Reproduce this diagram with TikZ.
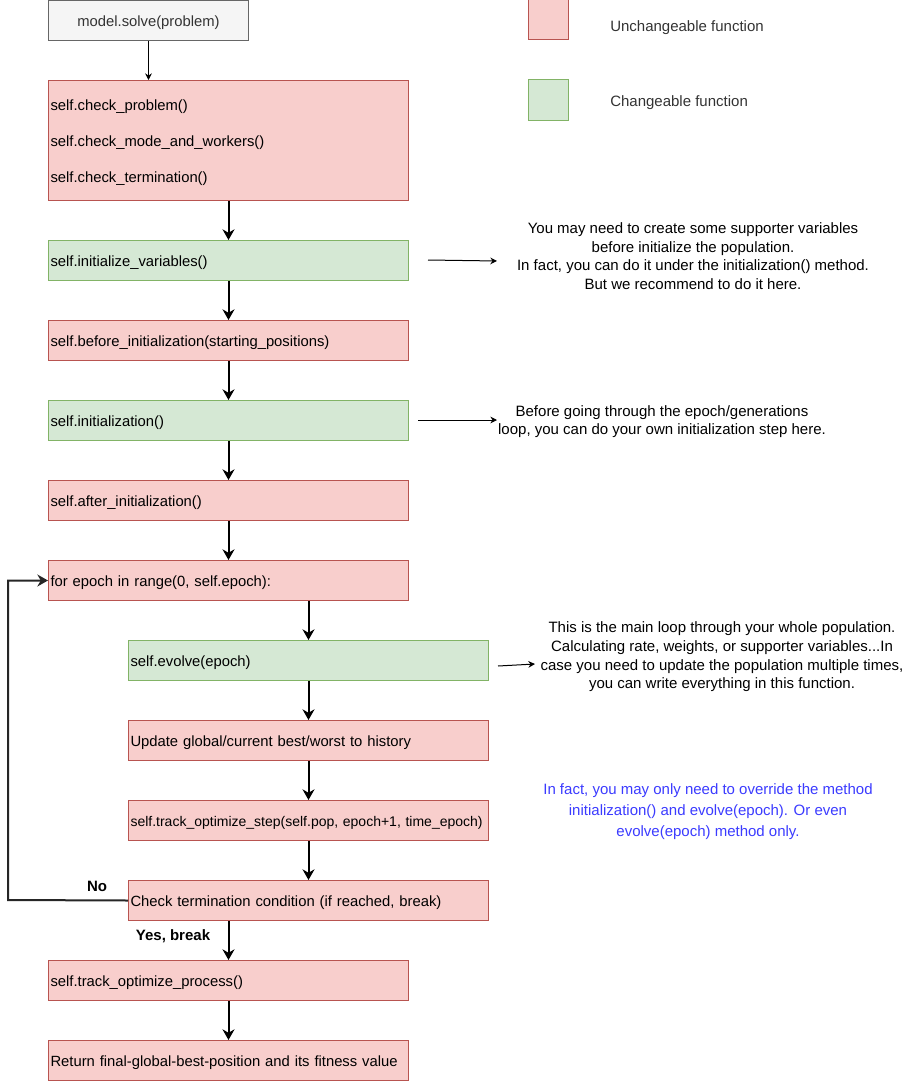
\documentclass[tikz,border=0pt]{standalone}
\usepackage{fontspec}
\setmainfont{Liberation Sans}
\usepackage{xcolor}
\usetikzlibrary{arrows.meta}

\definecolor{redfill}{HTML}{F8CECC}
\definecolor{redline}{HTML}{B85450}
\definecolor{greenfill}{HTML}{D5E8D4}
\definecolor{greenline}{HTML}{82B366}
\definecolor{greyfill}{HTML}{F5F5F5}
\definecolor{greyline}{HTML}{666666}
\definecolor{textgrey}{HTML}{333333}
\definecolor{noteblue}{HTML}{3B3BFF}

\tikzset{
  box/.style={anchor=north west, minimum width=270pt, minimum height=30pt,
    text width=267pt, inner xsep=1.5pt, inner ysep=0pt, align=left,
    text height=10pt, text depth=1.2pt,
    line width=0.75pt, font=\fontsize{11.1}{13.5}\selectfont},
  fixedbox/.style={box, draw=redline, fill=redfill},
  freebox/.style={box, draw=greenline, fill=greenfill},
  flow/.style={-{Stealth[length=8pt,width=9pt]}, line width=1.5pt},
  thinflow/.style={-{Stealth[length=5pt,width=5pt]}, line width=0.75pt},
  note/.style={align=center, inner sep=0pt, font=\fontsize{11.25}{14}\selectfont},
  tag/.style={inner sep=0pt, font=\fontsize{11.25}{13.5}\selectfont\bfseries}
}

\begin{document}
\begin{tikzpicture}[x=0.75pt, y=-0.75pt]
\useasboundingbox (0,0) rectangle (909,1081);

% Entry
\node[box, draw=greyline, fill=greyfill, text=textgrey, minimum width=150pt,
  text width=147pt, align=center] (solve) at (48,0) {model.solve(problem)};

% Legend
\fill[redfill, draw=redline, line width=0.75pt] (528,0) rectangle (568,40);
\fill[greenfill, draw=greenline, line width=0.75pt] (528,80) rectangle (568,120);
\node[anchor=west, inner sep=0pt, text=textgrey, font=\fontsize{11.25}{13.5}\selectfont]
  (legfixed) at (610,27.5) {Unchangeable function};
\node[anchor=west, inner sep=0pt, text=textgrey, font=\fontsize{11.25}{13.5}\selectfont]
  (legfree) at (610,102.5) {Changeable function};

% Main column
\node[fixedbox, minimum height=90pt, text depth=54.8pt, font=\fontsize{11.1}{26.8}\selectfont]
  (checks) at (48,80) {self.check\_problem()\\self.check\_mode\_and\_workers()\\self.check\_termination()};
\node[freebox] (initvars) at (48,240) {self.initialize\_variables()};
\node[fixedbox] (beforeinit) at (48,320) {self.before\_initialization(starting\_positions)};
\node[freebox] (init) at (48,400) {self.initialization()};
\node[fixedbox] (afterinit) at (48,480) {self.after\_initialization()};
\node[fixedbox] (forepoch) at (48,560) {for epoch in range(0, self.epoch):};

% Loop body
\node[freebox] (evolve) at (128,640) {self.evolve(epoch)};
\node[fixedbox] (update) at (128,720) {Update global/current best/worst to history};
\node[fixedbox, font=\fontsize{10.5}{13}\selectfont] (trackstep) at (128,800)
  {\mbox{self.track\_optimize\_step(self.pop, epoch+1, time\_epoch)}};
\node[fixedbox] (checkterm) at (128,880) {Check termination condition (if reached, break)};

% Exit
\node[fixedbox] (trackproc) at (48,960) {self.track\_optimize\_process()};
\node[fixedbox] (result) at (48,1040) {Return final-global-best-position and its fitness value};

% Flow
\draw[thinflow] (solve) -- (solve.south |- checks.north);
\draw[flow] (checks) -- (initvars);
\draw[flow] (initvars) -- (beforeinit);
\draw[flow] (beforeinit) -- (init);
\draw[flow] (init) -- (afterinit);
\draw[flow] (afterinit) -- (forepoch);
\draw[flow] (evolve.north |- forepoch.south) -- (evolve);
\draw[flow] (evolve) -- (update);
\draw[flow] (update) -- (trackstep);
\draw[flow] (trackstep) -- (checkterm);
\draw[flow] (trackproc.north |- checkterm.south) -- (trackproc);
\draw[flow] (trackproc) -- (result);

% Back to the loop head
\coordinate (loopcorner) at (8,900);
\draw[flow, draw=black!85] (checkterm.west) -- (loopcorner) |- (forepoch.west);
\node[tag] (no) at (97,886) {No};
\node[tag] (yes) at (173,936) {Yes, break};

% Notes
\node[note] (noteinitvars) at (693,256) {You may need to create some supporter variables\\before initialize the population.\\In fact, you can do it under the initialization() method.\\But we recommend to do it here.};
\node[note] (noteinit) at (662,421.5) {Before going through the epoch/generations\\loop, you can do your own initialization step here.};
\node[note] (noteevolve) at (722,657) {This is the main loop through your whole population.\\Calculating rate, weights, or supporter variables...In\\case you need to update the population multiple times,\\you can write everything in this function.};
\node[note, text=noteblue, font=\fontsize{11.25}{15.75}\selectfont] (noteblue) at (708,812)
  {In fact, you may only need to override the method\\initialization() and evolve(epoch). Or even\\evolve(epoch) method only.};

\coordinate (a1) at (428,260);
\coordinate (b1) at (497,261);
\coordinate (a2) at (418,420);
\coordinate (b2) at (497,420);
\coordinate (a3) at (498,666);
\coordinate (b3) at (535,664);
\draw[thinflow] (a1) -- (b1);
\draw[thinflow] (a2) -- (b2);
\draw[thinflow] (a3) -- (b3);

\end{tikzpicture}
\end{document}
